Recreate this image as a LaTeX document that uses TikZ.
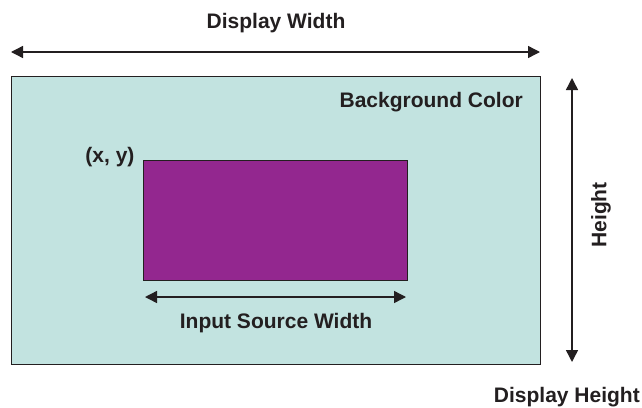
\documentclass[tikz,border=0pt]{standalone}
\usepackage{fontspec}
\setmainfont{Liberation Sans}
\usetikzlibrary{arrows.meta}
\definecolor{bgteal}{HTML}{C2E3E0}
\definecolor{srcpurple}{HTML}{93278F}
\definecolor{txtdark}{HTML}{231F20}
\begin{document}
\begin{tikzpicture}[x=1pt,y=-1pt,
  lbl/.style={font=\bfseries\fontsize{21}{24}\selectfont, text=txtdark, inner sep=0pt},
  dim/.style={line width=1.4pt, draw=txtdark, {Triangle[length=12pt,width=12pt]}-{Triangle[length=12pt,width=12pt]}}]
\useasboundingbox (0,0) rectangle (642,407);
\node[draw=txtdark, line width=1.2pt, fill=bgteal, minimum width=529pt, minimum height=288pt, inner sep=0pt, anchor=north west] (bg) at (11,76) {};
\node[draw=txtdark, line width=1.2pt, fill=srcpurple, minimum width=264pt, minimum height=120pt, inner sep=0pt, anchor=north west] (src) at (143,160) {};
\coordinate (dwl) at (11,52);
\coordinate (dwr) at (540,52);
\draw[dim] (dwl) -- (dwr);
\coordinate (ht) at (572,78);
\coordinate (hb) at (572,362);
\draw[dim] (ht) -- (hb);
\coordinate (iwl) at (145,297);
\coordinate (iwr) at (406,297);
\draw[dim] (iwl) -- (iwr);
\node[lbl] (dwt) at (276,23) {Display Width};
\node[lbl, anchor=east] (bgc) at (523,102) {Background Color};
\node[lbl] (xy) at (110,157) {(x, y)};
\node[lbl] (isw) at (276,323) {Input Source Width};
\node[lbl, rotate=90] (hl) at (601,215) {Height};
\node[lbl, anchor=east] (dh) at (640,397) {Display Height};
\end{tikzpicture}
\end{document}
